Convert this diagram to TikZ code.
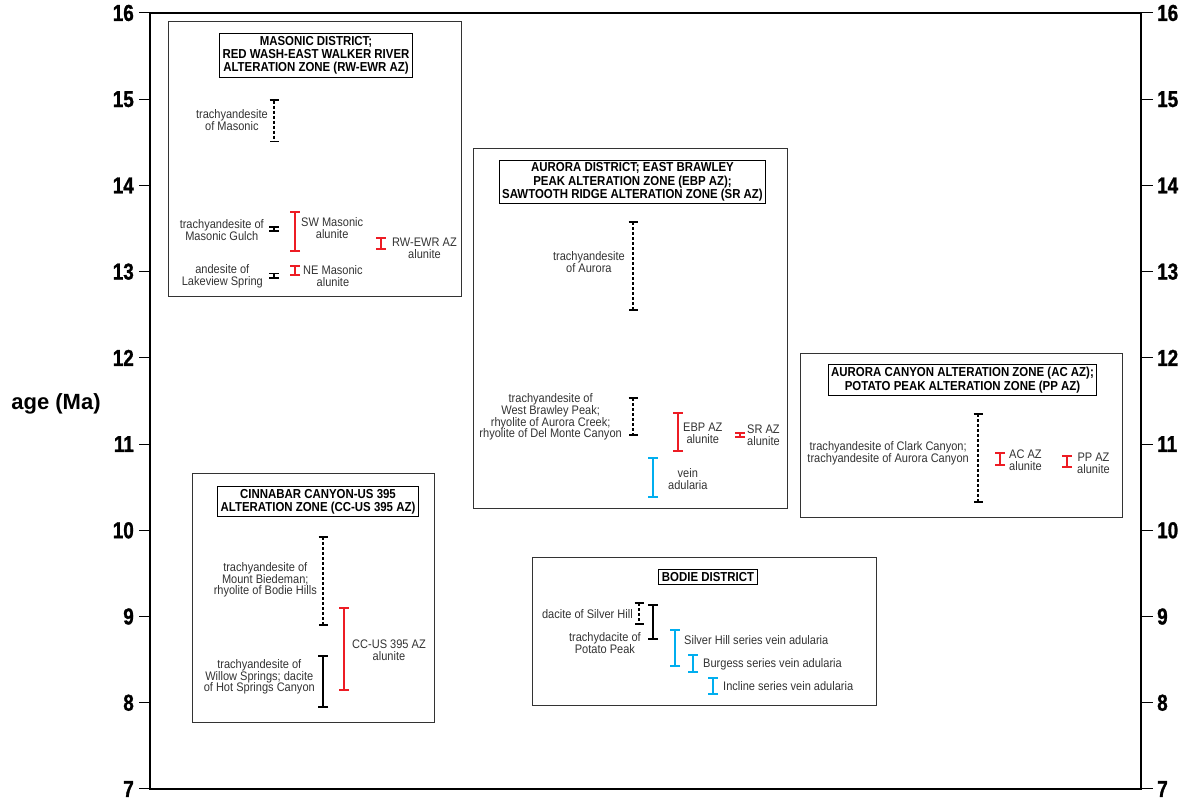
\documentclass[tikz,border=0pt]{standalone}
\usepackage{fontspec}
\setmainfont{Liberation Sans}
\newfontfamily\lblfont{Liberation Sans}[FakeStretch=0.89]
\newfontfamily\headfont{Liberation Sans}[FakeStretch=0.88]
\newfontfamily\numfont{Liberation Sans}[FakeStretch=0.82,FakeBold=1.2]
\usetikzlibrary{arrows.meta}
\definecolor{alured}{RGB}{237,28,36}
\definecolor{adublue}{RGB}{0,174,239}

\begin{document}
\begin{tikzpicture}[x=1pt,y=86.22pt,
        lbl/.style={font=\lblfont\fontsize{12.4}{11.8}\selectfont, text=black!80, align=center, inner sep=0pt},
        head/.style={draw, line width=0.9pt, font=\headfont\bfseries\fontsize{13}{13.3}\selectfont, align=center, inner xsep=3pt, inner ysep=2.5pt},
        panel/.style={draw=black!80, line width=0.8pt},
        numlbl/.style={font=\numfont\bfseries\fontsize{23}{23}\selectfont, inner sep=0pt},
        agebar/.style={line width=1.8pt, {Bar[width=10pt]}-{Bar[width=10pt]}},
        dashbar/.style={line width=1.2pt, dash pattern=on 3pt off 2pt, {Bar[width=9pt,line width=1.8pt]}-{Bar[width=9pt,line width=1.8pt]}}]
        \useasboundingbox (0,6.8837) rectangle (1189,16.1508);

        % Frame and age axes
        \draw[line width=1.6pt] (150,7) rectangle (1141,16);
        \foreach \a in {7,...,16} {
            \draw[line width=1pt] (139,\a) -- (150,\a);
            \draw[line width=1pt] (1141,\a) -- (1153,\a);
            \node[numlbl, anchor=east] (lt\a) at (134,\a) {\a};
            \node[numlbl, anchor=west] (rt\a) at (1157,\a) {\a};
        }
        \node[font=\bfseries\fontsize{22}{22}\selectfont] (agelbl) at (56,11.47) {age (Ma)};

        % Masonic district
        \draw[panel] (168,15.907) rectangle (461,12.718);
        \node[head] (masonichead) at (316,15.507) {MASONIC DISTRICT;\\RED WASH-EAST WALKER RIVER\\ALTERATION ZONE (RW-EWR AZ)};
        \draw[dashbar] (274,15.0) -- (274,14.5);
        \draw[agebar] (274,13.53) -- (274,13.46);
        \draw[agebar] (274,12.99) -- (274,12.92);
        \draw[agebar, alured] (295,13.70) -- (295,13.228);
        \draw[agebar, alured] (295,13.077) -- (295,12.95);
        \draw[agebar, alured] (381,13.40) -- (381,13.25);
        \node[lbl, anchor=east] (masonic) at (268,14.76) {trachyandesite\\of Masonic};
        \node[lbl, anchor=east] (gulch) at (264,13.48) {trachyandesite of\\Masonic Gulch};
        \node[lbl, anchor=east] (lakeview) at (263,12.95) {andesite of\\Lakeview Spring};
        \node[lbl, anchor=west] (swalu) at (301,13.51) {SW Masonic\\alunite};
        \node[lbl, anchor=west] (nealu) at (303,12.95) {NE Masonic\\alunite};
        \node[lbl, anchor=west] (rwalu) at (392,13.27) {RW-EWR AZ\\alunite};

        % Aurora district
        \draw[panel] (473,14.434) rectangle (787,10.259);
        \node[head] (aurorahead) at (632.5,14.04) {AURORA DISTRICT; EAST BRAWLEY\\PEAK ALTERATION ZONE (EBP AZ);\\SAWTOOTH RIDGE ALTERATION ZONE (SR AZ)};
        \draw[dashbar] (633,13.588) -- (633,12.544);
        \draw[dashbar] (633,11.546) -- (633,11.094);
        \draw[agebar, alured] (678,11.372) -- (678,10.908);
        \draw[agebar, alured] (740,11.14) -- (740,11.07);
        \draw[agebar, adublue] (653,10.85) -- (653,10.375);
        \node[lbl, anchor=east] (aurora) at (625,13.112) {trachyandesite\\of Aurora};
        \node[lbl, anchor=east] (brawley) at (622,11.314) {trachyandesite of\\West Brawley Peak;\\rhyolite of Aurora Creek;\\rhyolite of Del Monte Canyon};
        \node[lbl, anchor=west] (ebpalu) at (683,11.125) {EBP AZ\\alunite};
        \node[lbl, anchor=west] (sralu) at (747,11.10) {SR AZ\\alunite};
        \node[lbl, anchor=west] (veinadu) at (668,10.59) {vein\\adularia};

        % Aurora Canyon and Potato Peak
        \draw[panel] (800,12.057) rectangle (1122,10.155);
        \node[head] (acpphead) at (962.5,11.743) {AURORA CANYON ALTERATION ZONE (AC AZ);\\POTATO PEAK ALTERATION ZONE (PP AZ)};
        \draw[dashbar] (978,11.361) -- (978,10.317);
        \draw[agebar, alured] (1000,10.908) -- (1000,10.746);
        \draw[agebar, alured] (1067,10.874) -- (1067,10.723);
        \node[lbl, anchor=east] (clark) at (969,10.891) {trachyandesite of Clark Canyon;\\trachyandesite of Aurora Canyon};
        \node[lbl, anchor=west] (acalu) at (1009,10.81) {AC AZ\\alunite};
        \node[lbl, anchor=west] (ppalu) at (1077,10.781) {PP AZ\\alunite};

        % Cinnabar Canyon-US 395
        \draw[panel] (192,10.665) rectangle (434,7.777);
        \node[head] (cchead) at (318,10.334) {CINNABAR CANYON-US 395\\ALTERATION ZONE (CC-US 395 AZ)};
        \draw[dashbar] (323,9.934) -- (323,8.890);
        \draw[agebar, alured] (344,9.111) -- (344,8.136);
        \draw[agebar] (323,8.554) -- (323,7.939);
        \node[lbl, anchor=east] (biedeman) at (317,9.424) {trachyandesite of\\Mount Biedeman;\\rhyolite of Bodie Hills};
        \node[lbl, anchor=west] (ccalu) at (352,8.612) {CC-US 395 AZ\\alunite};
        \node[lbl, anchor=east] (willow) at (315,8.299) {trachyandesite of\\Willow Springs; dacite\\of Hot Springs Canyon};

        % Bodie district
        \draw[panel] (532,9.690) rectangle (876,7.974);
        \node[head] (bodiehead) at (708,9.459) {BODIE DISTRICT};
        \draw[dashbar] (639,9.169) -- (639,8.902);
        \draw[agebar] (653,9.146) -- (653,8.728);
        \draw[agebar, adublue] (675,8.856) -- (675,8.415);
        \draw[agebar, adublue] (693,8.566) -- (693,8.345);
        \draw[agebar, adublue] (713,8.299) -- (713,8.09);
        \node[lbl, anchor=east] (silverhill) at (633,9.03) {dacite of Silver Hill};
        \node[lbl, anchor=east] (potato) at (641,8.693) {trachydacite of\\Potato Peak};
        \node[lbl, anchor=west] (shadu) at (684,8.728) {Silver Hill series vein adularia};
        \node[lbl, anchor=west] (burgadu) at (703,8.45) {Burgess series vein adularia};
        \node[lbl, anchor=west] (incadu) at (723,8.194) {Incline series vein adularia};
\end{tikzpicture}
\end{document}
